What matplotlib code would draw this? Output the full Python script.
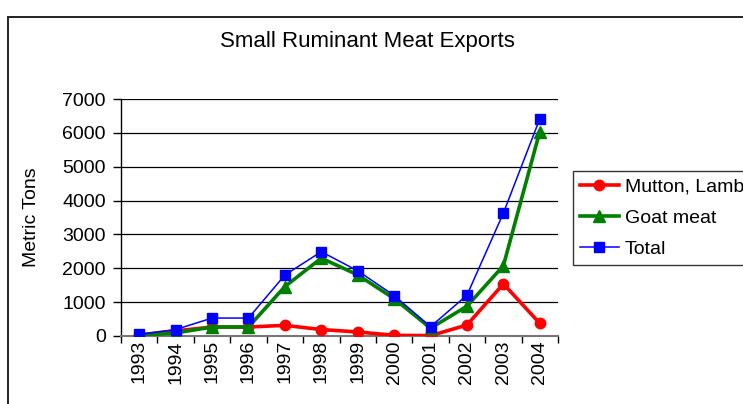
import matplotlib
matplotlib.use("Agg")
import matplotlib.pyplot as plt
from matplotlib.patches import Rectangle

plt.rcParams['font.family'] = ['Liberation Sans', 'DejaVu Sans']

years = ['1993', '1994', '1995', '1996', '1997', '1998',
         '1999', '2000', '2001', '2002', '2003', '2004']
mutton = [30, 150, 265, 265, 315, 190, 120, 20, 10, 325, 1540, 375]
goat = [10, 90, 265, 265, 1460, 2300, 1805, 1105, 230, 880, 2075, 6040]
total = [50, 190, 530, 530, 1800, 2490, 1925, 1195, 275, 1205, 3630, 6415]
yticks = [0, 1000, 2000, 3000, 4000, 5000, 6000, 7000]

W, H = 743, 404
fig = plt.figure(figsize=(W / 100, H / 100), dpi=100)

# outer chart frame (runs past the right and bottom edges)
fig.add_artist(Rectangle((8 / W, -0.1), 2, 1 - 17 / H + 0.1,
                         transform=fig.transFigure, fill=False,
                         lw=1.4, ec='#222222'))

ax = fig.add_axes([121 / W, 1 - 336 / H, (558 - 121) / W, (336 - 99) / H])
x = list(range(len(years)))

ax.plot(x, mutton, color='#ff0000', lw=2.6, marker='o', ms=7.5,
        label='Mutton, Lamb', zorder=3)
ax.plot(x, goat, color='#008000', lw=2.6, marker='^', ms=8.5,
        label='Goat meat', zorder=4)
ax.plot(x, total, color='#0000ff', lw=1.1, marker='s', ms=7.5,
        label='Total', zorder=5)

ax.set_xlim(-0.5, len(years) - 0.5)
ax.set_ylim(0, 7000)
ax.set_yticks(yticks)
ax.set_yticklabels([str(v) for v in yticks], fontsize=14)
ax.set_xticks([i - 0.5 for i in range(len(years) + 1)])
ax.set_xticklabels([])
ax.set_xticks(x, minor=True)
ax.set_xticklabels(years, minor=True, rotation=90, fontsize=14)
ax.tick_params(axis='x', which='minor', length=0, pad=3)
ax.tick_params(axis='x', which='major', length=5, width=1)
ax.tick_params(axis='y', length=6, width=1, pad=5)
ax.grid(axis='y', color='black', lw=0.9)
ax.set_axisbelow(True)
for s in ['top', 'right']:
    ax.spines[s].set_visible(False)
ax.spines['left'].set_linewidth(1)
ax.spines['bottom'].set_color('#777777')
ax.spines['bottom'].set_linewidth(1.5)

ax.set_ylabel('Metric Tons', fontsize=14, labelpad=16)
fig.text(367 / W, 1 - 47 / H, 'Small Ruminant Meat Exports',
         fontsize=16, ha='center', va='baseline')

leg = fig.legend(loc='upper left', bbox_to_anchor=(573 / W, 1 - 171 / H),
                 fontsize=14, frameon=True, fancybox=False, shadow=False,
                 handlelength=2.0, handletextpad=0.3, labelspacing=0.7,
                 borderpad=0.35, borderaxespad=0)
leg.get_frame().set_edgecolor('black')
leg.get_frame().set_linewidth(1)

fig.savefig('out.png', dpi=100)
